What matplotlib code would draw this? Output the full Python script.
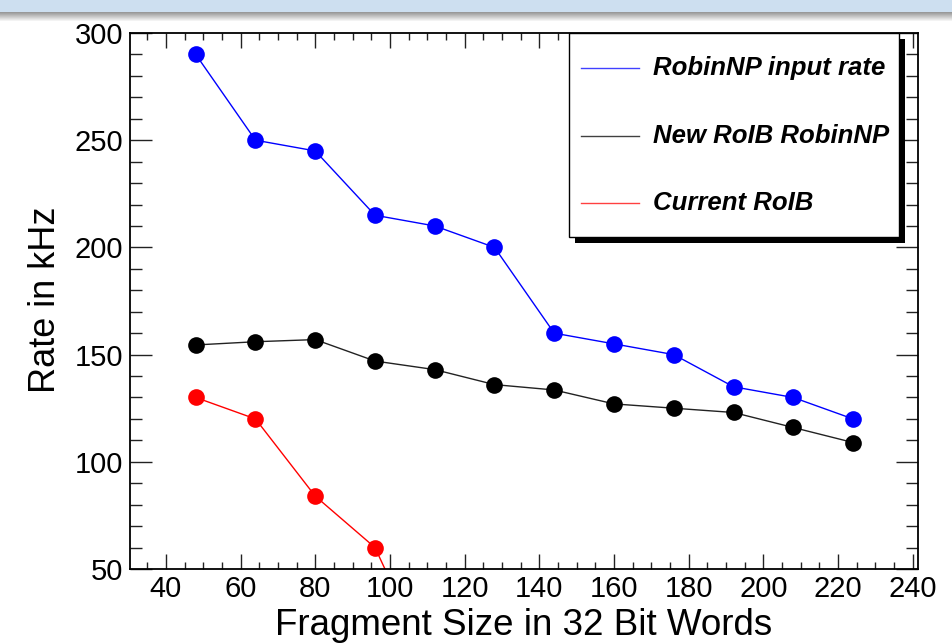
import numpy as np
import matplotlib.pyplot as plt
from matplotlib.patches import Rectangle
from matplotlib.ticker import MultipleLocator

plt.rcParams['font.family'] = ['Liberation Sans', 'DejaVu Sans']

# fragment sizes (32 bit words)
frag_size = [48, 64, 80, 96, 112, 128, 144, 160, 176, 192, 208, 224]
robin_input = [290, 250, 245, 215, 210, 200, 160, 155, 150, 135, 130, 120]
new_roib = [154.5, 156, 157, 147, 143, 136, 133.5, 127, 125, 123, 116, 109]
# current RoIB, last point falls below the visible range
cur_size = [48, 64, 80, 96, 112]
cur_roib = [130, 120, 84, 60, 0]

labels = ['RobinNP input rate', 'New RoIB RobinNP', 'Current RoIB']
colors = ['#0000ff', '#000000', '#ff0000']

fig = plt.figure(figsize=(9.53, 6.43), dpi=100)

# slide header band at the top
band = fig.add_axes([0, 1 - 22 / 643, 1, 22 / 643])
rows = np.ones((22, 1, 3))
rows[:12] = np.array([205, 223, 240]) / 255
fade = np.linspace(0.6, 1.0, 10)
rows[12:, 0, :] = fade[:, None]
band.imshow(rows, aspect='auto', extent=(0, 1, 0, 1))
band.axis('off')

ax = fig.add_axes([130 / 953, (643 - 569) / 643, 788 / 953, 536 / 643])

ax.plot(frag_size, robin_input, color=colors[0], lw=1, marker='o', ms=12, mec='none')
ax.plot(frag_size, new_roib, color='#222222', lw=1, marker='o', ms=12,
        mfc=colors[1], mec='none')
ax.plot(cur_size, cur_roib, color=colors[2], lw=1, marker='o', ms=12, mec='none')

ax.set_xlim(30.4, 241.4)
ax.set_ylim(50, 300)

ax.xaxis.set_major_locator(MultipleLocator(20))
ax.xaxis.set_minor_locator(MultipleLocator(5))
ax.yaxis.set_major_locator(MultipleLocator(50))
ax.yaxis.set_minor_locator(MultipleLocator(10))

ax.tick_params(axis='both', which='both', direction='in', top=True, right=True,
               width=1, color='#222222')
ax.tick_params(axis='x', which='major', length=11, labelsize=21, pad=4)
ax.tick_params(axis='x', which='minor', length=5)
ax.tick_params(axis='y', which='major', length=16, labelsize=21, pad=5)
ax.tick_params(axis='y', which='minor', length=8.5)
for s in ax.spines.values():
    s.set_linewidth(1.3)

ax.set_xlabel('Fragment Size in 32 Bit Words', fontsize=26.5)
ax.xaxis.set_label_coords(0.5, -0.072)
ax.set_ylabel('Rate in kHz', fontsize=26)
ax.yaxis.set_label_coords(-0.085, 0.502)

# ROOT style legend box with a hard black shadow
lx0, ly0, lw_, lh = 0.557, 0.619, 0.419, 0.381
ax.add_patch(Rectangle((lx0 + 6 / 788, ly0 - 6 / 536), lw_, lh, transform=ax.transAxes,
                       facecolor='black', edgecolor='none', zorder=5, clip_on=False))
ax.add_patch(Rectangle((lx0, ly0), lw_, lh, transform=ax.transAxes,
                       facecolor='white', edgecolor='black', lw=1, zorder=6,
                       clip_on=False))
entry_y = [0.935, 0.808, 0.683]
for lab, col, yy in zip(labels, colors, entry_y):
    ax.plot([0.572, 0.646], [yy, yy], color=col, lw=1, alpha=0.75,
            transform=ax.transAxes, zorder=7, clip_on=False)
    ax.text(0.664, yy, lab, transform=ax.transAxes, fontsize=18.5,
            fontweight='bold', fontstyle='italic', va='center', ha='left', zorder=7)

fig.savefig('out.png', dpi=100)
